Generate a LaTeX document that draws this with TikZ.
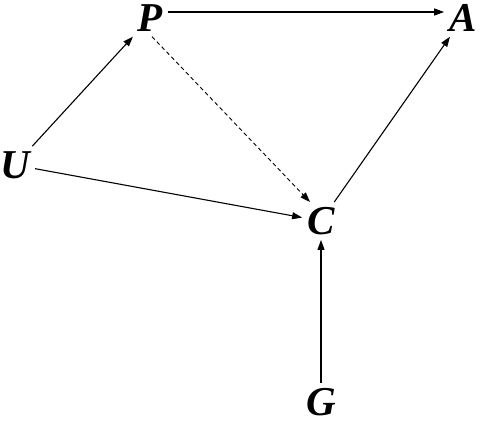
\documentclass[tikz,border=0pt]{standalone}
\usepackage{fontspec}
\setmainfont{Liberation Serif}
\usetikzlibrary{arrows.meta}
\begin{document}
\begin{tikzpicture}[x=1pt,y=-1pt,
  var/.style={font=\fontsize{41}{44}\selectfont\bfseries\itshape, inner sep=5pt},
  arr/.style={line width=1.1pt, -{Triangle[length=10pt,width=7pt]}},
  darr/.style={arr, dash pattern=on 4pt off 3pt, line width=0.9pt}]
\useasboundingbox (0,0) rectangle (500,425);
\node[var] (P) at (150,18) {P};
\node[var] (A) at (463,18) {A};
\node[var] (U) at (15,165) {U};
\node[var] (C) at (321,221) {C};
\node[var] (G) at (321,402) {G};
\draw[arr] ([yshift=6pt]P.east) -- ([yshift=6pt]A.west);
\draw[arr] (U) -- (P);
\draw[arr] (U) -- (C);
\draw[darr] ([xshift=2pt]P.south) -- (C.120);
\draw[arr] (C) -- (A);
\draw[arr] (G) -- (C);
\end{tikzpicture}
\end{document}
